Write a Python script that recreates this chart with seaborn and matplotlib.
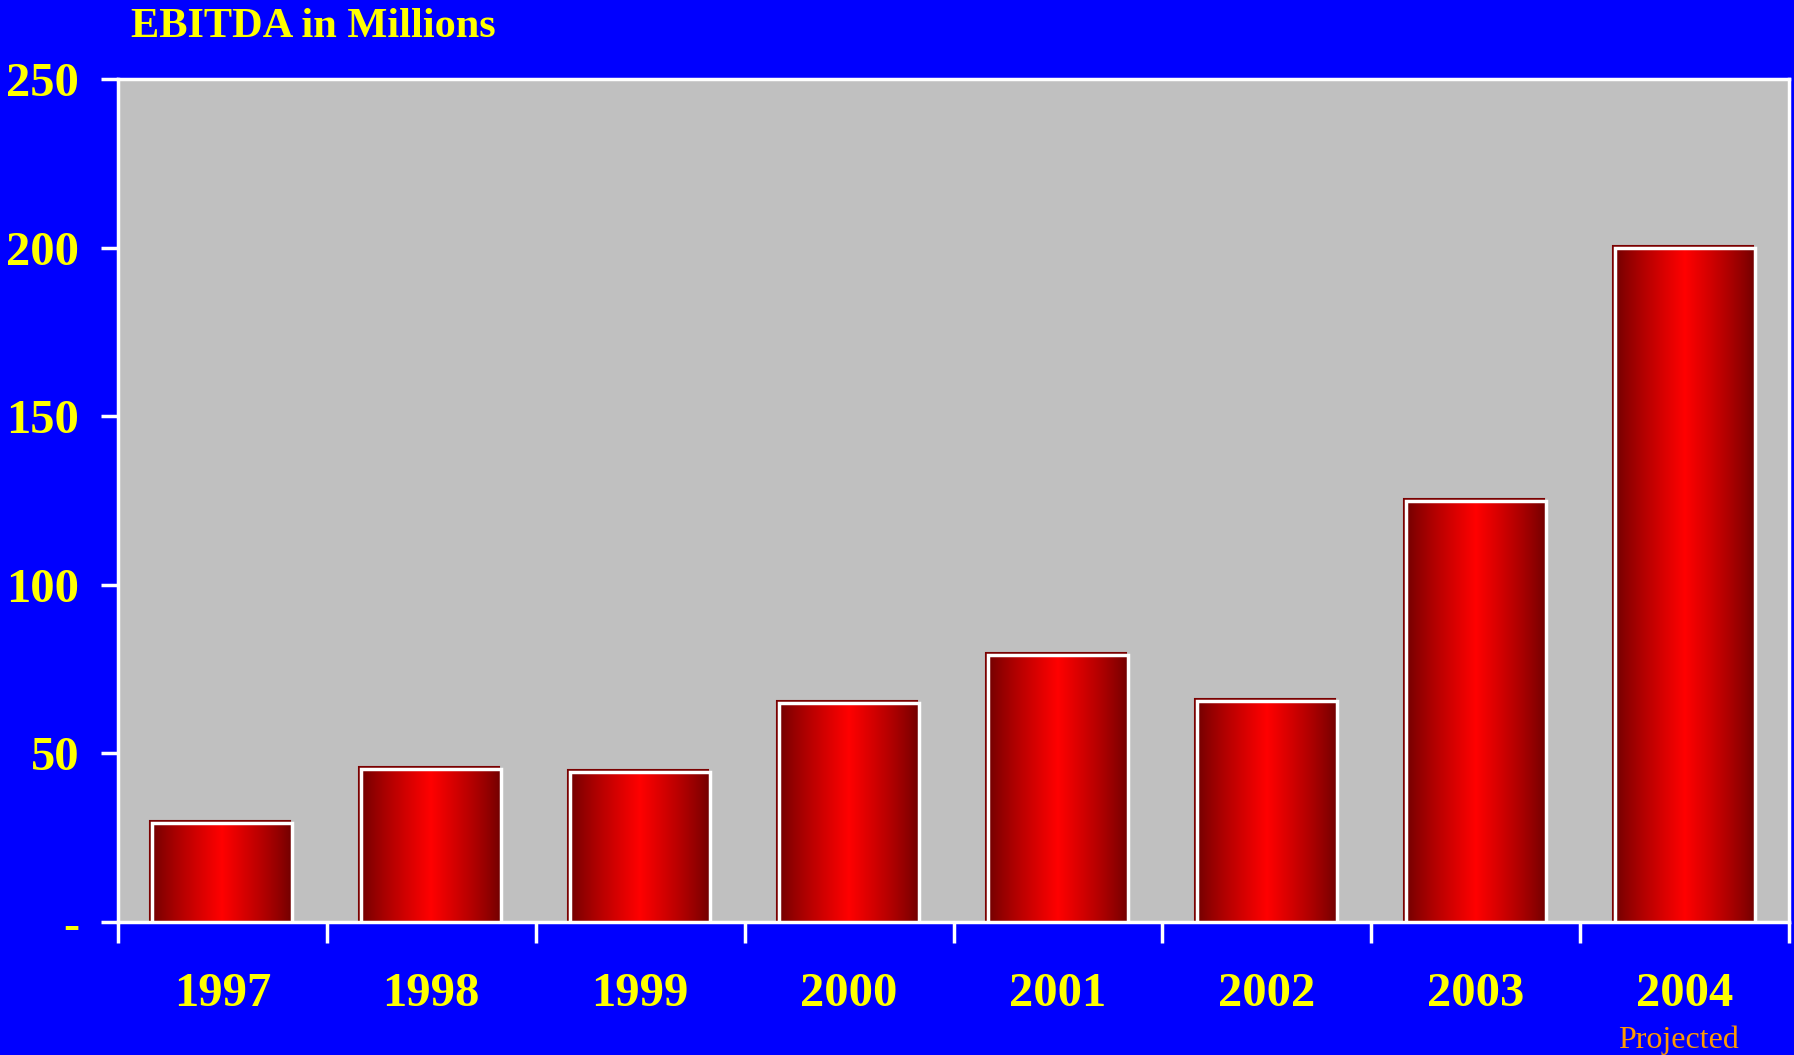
import numpy as np
import pandas as pd
import matplotlib
matplotlib.use("Agg")
import matplotlib.pyplot as plt
import matplotlib.transforms as mtransforms
from matplotlib.patches import Rectangle
import seaborn as sns

years = ["1997", "1998", "1999", "2000", "2001", "2002", "2003", "2004"]
ebitda = [29.5, 45.4, 44.4, 64.9, 79.3, 65.5, 125.0, 200.0]
ytick_values = [0, 50, 100, 150, 200, 250]
ytick_labels = ["-", "50", "100", "150", "200", "250"]
title_text = "EBITDA in Millions"
note_text = "Projected"

sns.set_theme(style="white")
plt.rcParams["font.family"] = ["Liberation Serif", "DejaVu Serif"]

BLUE = "#0000FF"
YELLOW = "#FFFF00"

fig = plt.figure(figsize=(17.94, 10.55), dpi=100, facecolor=BLUE)
ax = fig.add_axes([118 / 1794, 133 / 1055, (1789 - 118) / 1794, (922 - 79) / 1055])
ax.set_facecolor("#C0C0C0")

df = pd.DataFrame({"year": years, "value": ebitda})
sns.barplot(data=df, x="year", y="value", ax=ax, width=0.67,
            color="red", edgecolor="white", linewidth=2.5, saturation=1, zorder=3)

ax.set_ylim(0, 250)
ax.set_xlim(-0.5, len(years) - 0.5)

# gradient fill + shadow outline for each bar
xs = np.linspace(0, 1, 256)
r = 112 + 143 * (1 - np.abs(2 * xs - 1)) ** 0.85
grad = np.zeros((1, 256, 3))
grad[0, :, 0] = r / 255
for p in list(ax.patches):
    x0, y0 = p.get_x(), p.get_y()
    w, h = p.get_width(), p.get_height()
    shadow_tr = mtransforms.offset_copy(ax.transData, fig=fig, x=-2, y=2, units="dots")
    sh = Rectangle((x0, y0), w, h, facecolor="none", edgecolor="#7A0000",
                   linewidth=1.5, transform=shadow_tr, zorder=2)
    ax.add_patch(sh)
    im = ax.imshow(grad, extent=[x0, x0 + w, y0, y0 + h], aspect="auto",
                   interpolation="bilinear", zorder=3.5)
    im.set_clip_path(p)
    p.set_facecolor("none")
    p.set_zorder(4)

for s in ax.spines.values():
    s.set_visible(True)
    s.set_color("white")
    s.set_linewidth(2.5)

ax.set_yticks(ytick_values)
ax.set_yticklabels(ytick_labels)
ax.tick_params(axis="y", direction="out", length=12, width=2.5, color="white",
               labelcolor=YELLOW, labelsize=35, pad=16, left=True)
for t in ax.get_yticklabels():
    t.set_fontweight("bold")

# x ticks at category boundaries, labels at centers
ax.set_xticks(np.arange(len(years) + 1) - 0.5)
ax.set_xticklabels([""] * (len(years) + 1))
ax.set_xticks(np.arange(len(years)), minor=True)
ax.set_xticklabels(years, minor=True)
ax.tick_params(axis="x", which="major", direction="out", length=15, width=2.5,
               color="white", bottom=True)
ax.tick_params(axis="x", which="minor", length=0, labelcolor=YELLOW,
               labelsize=35, pad=36)
for t in ax.get_xticklabels(minor=True):
    t.set_fontweight("bold")

ax.set_xlabel("")
ax.set_ylabel("")

fig.text(131 / 1794, 1 - 37 / 1055, title_text, color=YELLOW, fontsize=30.5,
         fontweight="bold", ha="left", va="baseline")
ax.annotate(note_text, xy=(len(years) - 1, 0), xycoords=("data", "axes fraction"),
            xytext=(-6, -126), textcoords="offset pixels", ha="center", va="baseline",
            color="#FF9900", fontsize=23)

fig.savefig("out.png", dpi=100, facecolor=BLUE)
